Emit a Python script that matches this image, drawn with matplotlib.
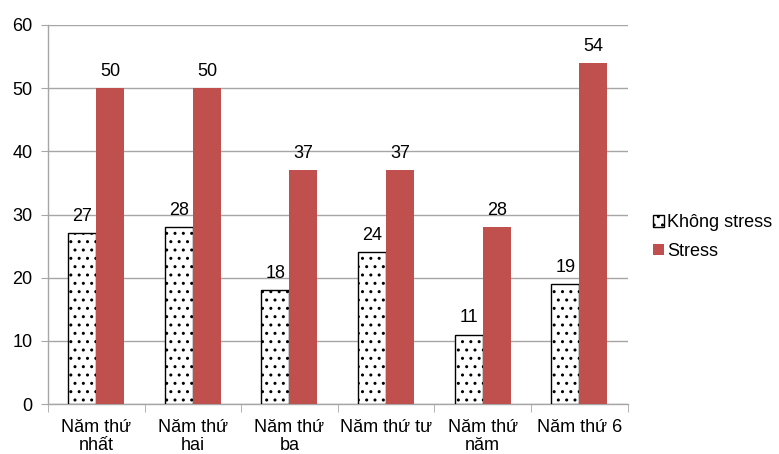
import matplotlib
matplotlib.use("Agg")
import matplotlib.pyplot as plt
import numpy as np

plt.rcParams['font.family'] = ['Liberation Sans', 'DejaVu Sans']
plt.rcParams['hatch.linewidth'] = 1.0

categories = ["Năm thứ\nnhất", "Năm thứ\nhai", "Năm thứ\nba", "Năm thứ tư", "Năm thứ\nnăm", "Năm thứ 6"]
khong_stress = [27, 28, 18, 24, 11, 19]
stress = [50, 50, 37, 37, 28, 54]

fig = plt.figure(figsize=(7.79, 4.54), dpi=100)
ax = fig.add_axes([0.0616, 0.110, 0.744, 0.835])

x = np.arange(len(categories))
w = 0.29
ax.bar(x - w/2, khong_stress, w, facecolor='white', edgecolor='black', hatch='..', linewidth=1.0, label='Không stress', zorder=3)
ax.bar(x + w/2, stress, w, color='#C0504D', label='Stress', zorder=3)

for xi, v in zip(x - w/2, khong_stress):
    ax.text(xi, v + 1.3, str(v), ha='center', va='bottom', fontsize=13)
for xi, v in zip(x + w/2, stress):
    ax.text(xi, v + 1.3, str(v), ha='center', va='bottom', fontsize=13)

ax.set_ylim(0, 60)
ax.set_xlim(-0.5, len(categories) - 0.5)
ax.set_yticks(range(0, 61, 10))
ax.yaxis.grid(True, color='#A6A6A6', linewidth=1.0, zorder=0)
ax.set_axisbelow(True)

ax.set_xticks(x)
ax.set_xticklabels(categories, fontsize=13, linespacing=1.05)
ax.tick_params(axis='x', length=0, pad=11)
ax.set_xticks(np.arange(-0.5, len(categories) + 0.5, 1), minor=True)
ax.tick_params(axis='x', which='minor', length=6, color='#A6A6A6', direction='out')
ax.tick_params(axis='y', length=5, color='#A6A6A6', labelsize=13, pad=6)

for s in ['top', 'right']:
    ax.spines[s].set_visible(False)
for s in ['left', 'bottom']:
    ax.spines[s].set_color('#A6A6A6')
    ax.spines[s].set_linewidth(1.0)

ax.legend(loc='center left', bbox_to_anchor=(1.0, 0.44), frameon=False, fontsize=13,
          handlelength=0.6, handleheight=0.6, handletextpad=0.2, labelspacing=0.65,
          borderaxespad=1.0)

fig.savefig('out.png', dpi=100)
